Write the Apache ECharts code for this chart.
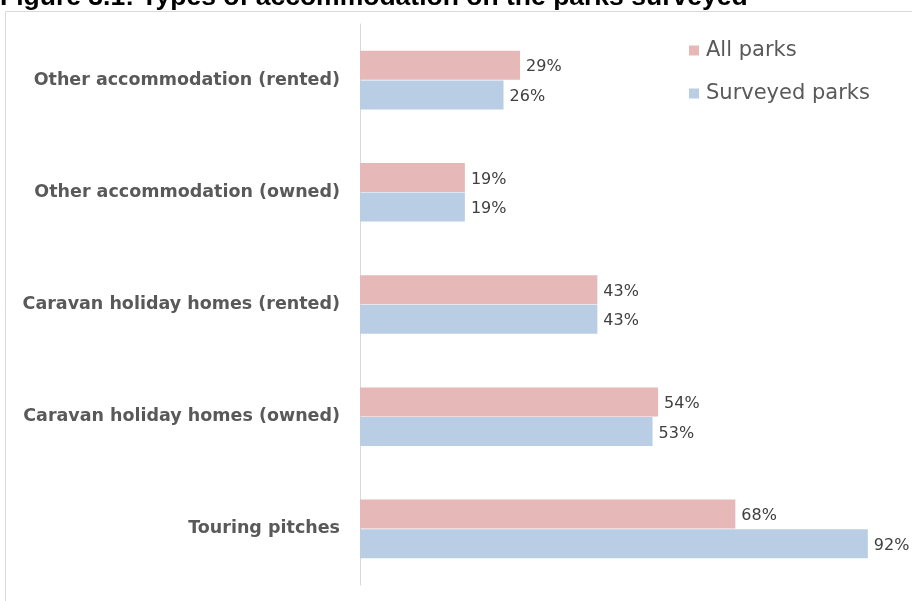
<!DOCTYPE html>
<html>
<head>
<meta charset="utf-8">
<script src="https://cdn.jsdelivr.net/npm/echarts@6/dist/echarts.min.js"></script>
<style>html,body{margin:0;padding:0;background:#fff}#c{width:912px;height:601px}</style>
</head>
<body>
<div id="c"></div>
<script>
// Categories listed top to bottom
const categories = [
  'Other accommodation (rented)',
  'Other accommodation (owned)',
  'Caravan holiday homes (rented)',
  'Caravan holiday homes (owned)',
  'Touring pitches'
];
const allParks = [29, 19, 43, 54, 68];
const surveyedParks = [26, 19, 43, 53, 92];
const seriesNames = ['All parks', 'Surveyed parks'];
const titleText = 'Figure 3.1: Types of accommodation on the parks surveyed';

const labelFont = 'DejaVu Sans';
const chart = echarts.init(document.getElementById('c'), null, {renderer: 'canvas'});
const lbl = {
  show: true, position: 'right', distance: 6, offset: [0, 2],
  color: '#404040', fontSize: 16, fontFamily: labelFont,
  formatter: p => p.value + '%'
};
chart.setOption({
  animation: false,
  backgroundColor: '#fff',
  graphic: [
    {type: 'rect', shape: {x: 5.5, y: 11.5, width: 1000, height: 700},
     style: {fill: 'none', stroke: '#d9d9d9', lineWidth: 1}, z: -1},
    {type: 'text', left: 0, top: -16,
     style: {text: titleText, font: 'bold 26.5px "Liberation Sans"', fill: '#000'}}
  ],
  legend: {
    orient: 'vertical', left: 684, top: 35, itemGap: 22,
    itemWidth: 10, itemHeight: 10, icon: 'rect',
    data: seriesNames,
    textStyle: {fontSize: 21, color: '#595959', fontFamily: labelFont, padding: [0, 0, 0, 2]}
  },
  grid: {left: 360, top: 24, width: 554.3, height: 561, containLabel: false},
  xAxis: {
    type: 'value', min: 0, max: 100, show: false
  },
  yAxis: {
    type: 'category', data: categories, inverse: true,
    axisLine: {show: true, lineStyle: {color: '#d9d9d9', width: 1}},
    axisTick: {show: false},
    axisLabel: {color: '#595959', fontSize: 17.5, fontWeight: 'bold', fontFamily: labelFont, margin: 20}
  },
  series: [
    {name: seriesNames[0], type: 'bar', data: allParks, barWidth: 29, barGap: '2%',
     itemStyle: {color: '#E6B9B8'}, label: lbl},
    {name: seriesNames[1], type: 'bar', data: surveyedParks, barWidth: 29, barGap: '2%',
     itemStyle: {color: '#B9CDE5'}, label: lbl}
  ]
});
</script>
</body>
</html>
